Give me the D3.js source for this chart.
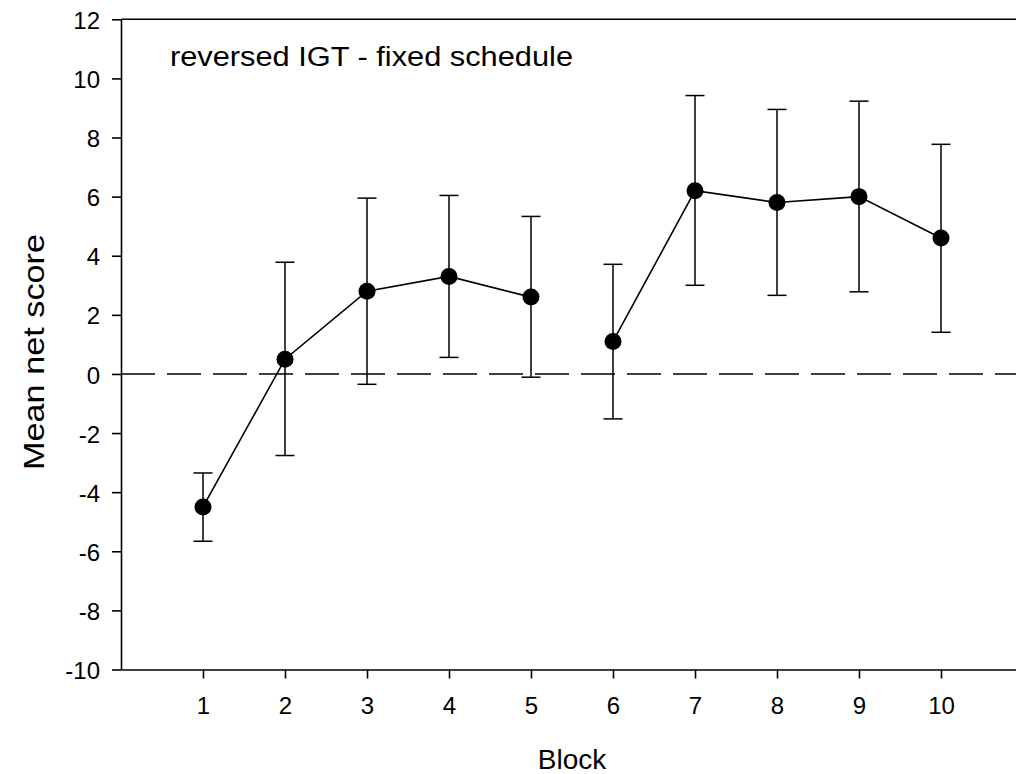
<!DOCTYPE html>
<html>
<head>
<meta charset="utf-8">
<script src="https://cdn.jsdelivr.net/npm/d3@7"></script>
<style>
    body { margin: 0; background: #fff; }
    text { font-family: "Liberation Sans", Arial, sans-serif; fill: #000; }
</style>
</head>
<body>
<svg id="chart" width="1016" height="774"></svg>
<script>
// values
var blocks = [1, 2, 3, 4, 5, 6, 7, 8, 9, 10];
var meanScore = [-4.5, 0.5, 2.8, 3.3, 2.6, 1.1, 6.2, 5.8, 6.0, 4.6];
var errUpper = [-3.35, 3.78, 5.95, 6.04, 5.33, 3.71, 9.42, 8.95, 9.23, 7.77];
var errLower = [-5.66, -2.76, -0.35, 0.56, -0.11, -1.52, 3.0, 2.66, 2.78, 1.41];
// the line breaks between block 5 and block 6
var segments = [[0, 1, 2, 3, 4], [5, 6, 7, 8, 9]];
var yTicks = [-10, -8, -6, -4, -2, 0, 2, 4, 6, 8, 10, 12];

var svg = d3.select('#chart');

var x = d3.scaleLinear().domain([0, 11]).range([121, 1023]);
var y = d3.scaleLinear().domain([-10, 12]).range([669.5, 19.3]);

// axes
var xAxis = svg.append('g')
    .attr('transform', 'translate(0,' + y(-10) + ')')
    .call(d3.axisBottom(x).tickValues(blocks).tickSize(9).tickSizeOuter(0).tickPadding(18));
var yAxis = svg.append('g')
    .attr('transform', 'translate(' + x(0) + ',0)')
    .call(d3.axisLeft(y).tickValues(yTicks).tickFormat(function(d){ return String(d); })
        .tickSize(9).tickSizeOuter(0).tickPadding(12));

[xAxis, yAxis].forEach(function(ax){
    ax.attr('font-size', null).attr('font-family', null);
    ax.selectAll('path, line').attr('stroke', '#000').attr('stroke-width', 1.6);
    ax.selectAll('text').style('font-size', '24px').attr('fill', '#000');
});
yAxis.selectAll('text').attr('dy', '0.38em');

// top frame line
svg.append('line')
    .attr('x1', x(0)).attr('x2', x(11))
    .attr('y1', y(12)).attr('y2', y(12))
    .attr('stroke', '#000').attr('stroke-width', 1.6);

// zero reference
svg.append('line')
    .attr('x1', x(0)).attr('x2', x(11))
    .attr('y1', y(0)).attr('y2', y(0))
    .attr('stroke', '#000').attr('stroke-width', 1.5)
    .attr('stroke-dasharray', '34,12');

// error bars
var bars = svg.append('g').attr('stroke', '#000').attr('stroke-width', 1.5);
blocks.forEach(function(b, i){
    bars.append('line')
        .attr('x1', x(b)).attr('x2', x(b))
        .attr('y1', y(errUpper[i])).attr('y2', y(errLower[i]));
    [errUpper[i], errLower[i]].forEach(function(v){
        bars.append('line')
            .attr('x1', x(b) - 9.5).attr('x2', x(b) + 9.5)
            .attr('y1', y(v)).attr('y2', y(v));
    });
});

// connecting lines
var line = d3.line()
    .x(function(i){ return x(blocks[i]); })
    .y(function(i){ return y(meanScore[i]); });
segments.forEach(function(seg){
    svg.append('path')
        .attr('d', line(seg))
        .attr('fill', 'none')
        .attr('stroke', '#000')
        .attr('stroke-width', 1.6);
});

// markers
svg.selectAll('circle.pt')
    .data(blocks)
    .enter().append('circle')
    .attr('class', 'pt')
    .attr('cx', function(d){ return x(d); })
    .attr('cy', function(d, i){ return y(meanScore[i]); })
    .attr('r', 8.5)
    .attr('fill', '#000');

// labels
svg.append('text')
    .attr('x', 170).attr('y', 66)
    .style('font-size', '27px')
    .attr('textLength', 403)
    .attr('lengthAdjust', 'spacingAndGlyphs')
    .text('reversed IGT - fixed schedule');

svg.append('text')
    .attr('x', (x(0) + x(11)) / 2).attr('y', 769)
    .attr('text-anchor', 'middle')
    .style('font-size', '28px')
    .text('Block');

svg.append('text')
    .attr('transform', 'translate(44,352) rotate(-90)')
    .attr('text-anchor', 'middle')
    .style('font-size', '30px')
    .attr('textLength', 236)
    .attr('lengthAdjust', 'spacingAndGlyphs')
    .text('Mean net score');
</script>
</body>
</html>
